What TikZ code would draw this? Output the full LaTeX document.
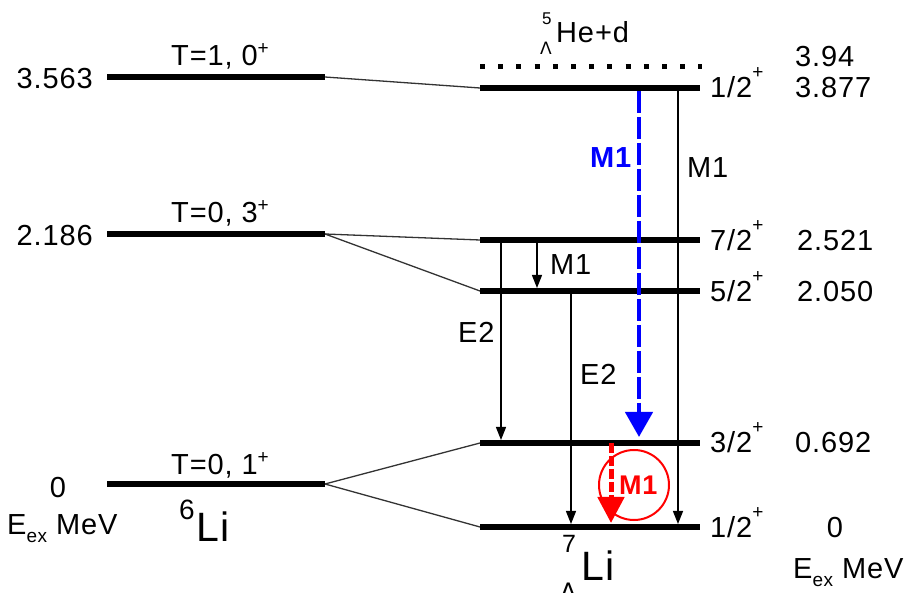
\documentclass[tikz,border=0pt]{standalone}
\usepackage{fontspec}
\setmainfont{Liberation Sans}[LetterSpace=3]
\newfontfamily\grk{DejaVu Sans}
\usetikzlibrary{arrows.meta}
\newcommand\spp[2][11pt]{\raisebox{#1}{\fontsize{19}{19}\selectfont #2}}
\newcommand\smallsz{\fontsize{19}{19}\selectfont}
\begin{document}
\begin{tikzpicture}[x=1pt,y=-1pt,
  lvl/.style={line width=6pt},
  conn/.style={line width=1.3pt, draw=black!80},
  txt/.style={font=\fontsize{29}{29}\selectfont, inner sep=0pt},
  arr/.style={line width=1.4pt, -{Triangle[width=10pt,length=13pt]}},
  bluearr/.style={line width=4.5pt, draw={rgb,255:red,0;green,0;blue,255}, dash pattern=on 22pt off 4pt,
     -{Triangle[width=27pt,length=25pt]}},
  redarr/.style={line width=5pt, draw={rgb,255:red,255;green,0;blue,0}, dash pattern=on 10pt off 3pt,
     -{Triangle[width=26pt,length=26pt]}}]
\useasboundingbox (0,0) rectangle (911,593);
\definecolor{myblue}{RGB}{0,0,255}
\definecolor{myred}{RGB}{255,0,0}
% level endpoints
\coordinate (L3a) at (107,77);  \coordinate (L3b) at (325,77);
\coordinate (L2a) at (107,234); \coordinate (L2b) at (325,234);
\coordinate (L0a) at (107,484); \coordinate (L0b) at (325,484);
\coordinate (R1a) at (480,88);   \coordinate (R1b) at (700,88);
\coordinate (R72a) at (480,240); \coordinate (R72b) at (700,240);
\coordinate (R52a) at (480,291); \coordinate (R52b) at (700,291);
\coordinate (R32a) at (480,443); \coordinate (R32b) at (700,443);
\coordinate (R12a) at (480,527); \coordinate (R12b) at (700,527);
\coordinate (Da) at (480,67); \coordinate (Db) at (702,67);
% connectors
\draw[conn] (L3b) -- (R1a);
\draw[conn] (L2b) -- (R72a);
\draw[conn] (L2b) -- (R52a);
\draw[conn] (L0b) -- (R32a);
\draw[conn] (L0b) -- (R12a);
% levels
\foreach \p in {L3,L2,L0,R1,R72,R52,R32,R12} \draw[lvl] (\p a) -- (\p b);
\draw[line width=5pt, dash pattern=on 5pt off 13.2pt] (Da) -- (Db);
% arrow ends
\coordinate (e2as) at (501,243); \coordinate (e2ae) at (501,440);
\coordinate (m1ss) at (537,243); \coordinate (m1se) at (537,288);
\coordinate (e2bs) at (571,294); \coordinate (e2be) at (571,524);
\coordinate (m1rs) at (678,91);  \coordinate (m1re) at (678,524);
\coordinate (bls) at (639,91);   \coordinate (ble) at (639,437);
\coordinate (rds) at (611,443);  \coordinate (rde) at (611,523);
\draw[arr] (e2as) -- (e2ae);
\draw[arr] (m1ss) -- (m1se);
\draw[arr] (e2bs) -- (e2be);
\draw[arr] (m1rs) -- (m1re);
\draw[bluearr] (bls) -- (ble);
\draw[line width=2pt, myred] (634,485) circle[radius=35];
\draw[redarr] (rds) -- (rde);
% left labels
\node[txt, anchor=base east] (t3563) at (93,89) {3.563};
\node[txt, anchor=base] (tT10) at (220,66) {T=1, 0\spp{+}};
\node[txt, anchor=base east] (t2186) at (93,246) {2.186};
\node[txt, anchor=base] (tT03) at (220,223) {T=0, 3\spp{+}};
\node[txt, anchor=base] (t0L) at (58,498) {0};
\node[txt, anchor=base west] (tEexL) at (7,535) {E\raisebox{-8pt}{\smallsz ex} MeV};
\node[txt, anchor=base] (tT01) at (220,475) {T=0, 1\spp{+}};
\node[txt, anchor=base west, font=\fontsize{28}{28}\selectfont] (t6) at (179,520) {6};
\node[txt, anchor=base west, font=\fontsize{41}{41}\selectfont] (tLi6) at (196,542) {Li};
% right labels
\node[txt, anchor=base west] (sp1) at (710,98) {1/2\spp[19pt]{+}};
\node[txt, anchor=base west] (e3877) at (795,98) {3.877};
\node[txt, anchor=base west] (e394) at (795,67) {3.94};
\node[txt, anchor=base west] (sp72) at (710,251) {7/2\spp[19pt]{+}};
\node[txt, anchor=base west] (e2521) at (797,251) {2.521};
\node[txt, anchor=base west] (sp52) at (710,302) {5/2\spp[19pt]{+}};
\node[txt, anchor=base west] (e2050) at (797,302) {2.050};
\node[txt, anchor=base west] (sp32) at (710,453) {3/2\spp[19pt]{+}};
\node[txt, anchor=base west] (e0692) at (795,453) {0.692};
\node[txt, anchor=base west] (sp12) at (710,537) {1/2\spp[19pt]{+}};
\node[txt, anchor=base] (e0R) at (835,537) {0};
\node[txt, anchor=base west] (tEexR) at (793,578) {E\raisebox{-8pt}{\smallsz ex} MeV};
% hypernuclear symbols
\node[txt, anchor=base west, font=\fontsize{17}{17}\selectfont] (t5) at (542,25) {5};
\node[txt, anchor=base west, font=\fontsize{17}{17}\grk] (tLam5) at (540,55) {Λ};
\node[txt, anchor=base west] (tHed) at (556,43) {He+d};
\node[txt, anchor=base west, font=\fontsize{25}{25}\selectfont] (t7) at (562,553) {7};
\node[txt, anchor=base west, font=\fontsize{24}{24}\grk] (tLam7) at (560,600) {Λ};
\node[txt, anchor=base west, font=\fontsize{41}{41}\selectfont] (tLi7) at (581,580) {Li};
% transition labels
\node[txt, anchor=base west] (lE2a) at (458,343) {E2};
\node[txt, anchor=base west] (lM1s) at (550,275) {M1};
\node[txt, anchor=base west] (lE2b) at (580,385) {E2};
\node[txt, anchor=base west] (lM1r) at (687,178) {M1};
\node[txt, anchor=base west, font=\fontsize{29}{29}\selectfont\bfseries, text=myblue] (lM1b) at (590,168) {M1};
\node[txt, anchor=base west, font=\fontsize{27}{27}\selectfont\bfseries, text=myred] (lM1red) at (619,495) {M1};
\end{tikzpicture}
\end{document}
